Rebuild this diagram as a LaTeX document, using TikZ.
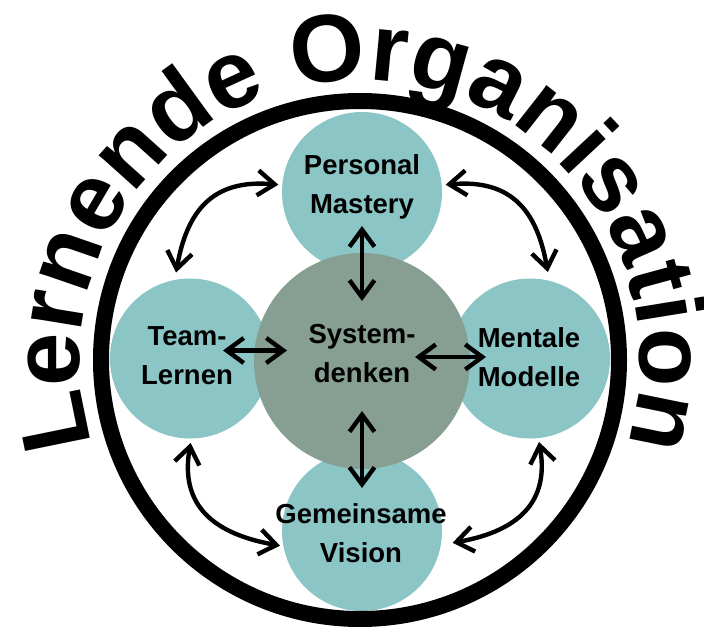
\documentclass[tikz,border=0pt]{standalone}
\usepackage{fontspec}
\setmainfont{Liberation Sans}
\usetikzlibrary{arrows.meta,decorations.text}
\definecolor{bubbleteal}{HTML}{8BC5C6}
\definecolor{coregreen}{HTML}{869F92}
\newcommand\orgtitlefont{\fontsize{96}{100}\selectfont\bfseries}
\begin{document}
\begin{tikzpicture}[x=1pt,y=1pt,
  bubble/.style={circle, fill=bubbleteal, minimum size=160pt, inner sep=0pt, outer sep=0pt},
  core/.style={circle, fill=coregreen, minimum size=216pt, inner sep=0pt, outer sep=0pt},
  lab/.style={font=\fontsize{27.5}{39}\selectfont\bfseries, align=center, text=black, inner sep=0pt},
  dbl/.style={line width=4.4pt, {Straight Barb[length=17pt,width=25pt]}-{Straight Barb[length=17pt,width=25pt]}},
]
\fill[white] (0,0) rectangle (704,630);
\useasboundingbox (0,0) rectangle (704,630);
\coordinate (hub) at (360,270);

% the four disciplines around the core
\node[bubble] (pm) at (362,438) {};
\node[bubble] (tl) at (190,271.5) {};
\node[bubble] (mm) at (530,271.5) {};
\node[bubble] (gv) at (362,99) {};
\node[core] (sd) at (362,269) {};

% outer ring
\draw[line width=16pt] (hub) circle[radius=259pt];

% title along the ring
\path[decorate, decoration={text along path, text align=center,
    text={|\orgtitlefont|Lernende Organisation}}]
  (hub) ++(206:280pt) arc[start angle=206, end angle=-26, radius=280pt];

% labels
\node[lab] (pmlab) at (362,443) {Personal\\Mastery};
\node[lab] (tllab) at (187,274.5) {Team-\\Lernen};
\node[lab] (sdlab) at (362,276.5) {System-\\denken};
\node[lab] (mmlab) at (529,272.5) {Mentale\\Modelle};
\node[lab] (gvlab) at (361,97) {Gemeinsame\\Vision};

% links between the core and each discipline
\draw[dbl] ([yshift=-34pt]pm.center) -- ([yshift=60pt]sd.center);
\draw[dbl] ([yshift=-50pt]sd.center) -- ([yshift=43pt]gv.center);
\draw[dbl] ([shift={(33pt,8pt)}]tl.center) -- ([shift={(-75pt,10.5pt)}]sd.center);
\draw[dbl] ([shift={(53pt,4pt)}]sd.center) -- ([shift={(-44pt,1.5pt)}]mm.center);

% links between neighbouring disciplines
\draw[dbl, shorten <=7.5pt, shorten >=4pt] (tl.101) to[out=80, in=175, looseness=1.25] (pm.175);
\draw[dbl, shorten <=9pt, shorten >=4pt] (mm.76) to[out=100, in=5, looseness=1.25] (pm.5);
\draw[dbl, shorten <=4.5pt, shorten >=3.5pt] (tl.-89) to[out=-100, in=170, looseness=1.25] (gv.191);
\draw[dbl, shorten <=4pt, shorten >=12pt] (mm.-84) to[out=-80, in=10, looseness=1.25] (gv.-10.6);
\end{tikzpicture}
\end{document}
